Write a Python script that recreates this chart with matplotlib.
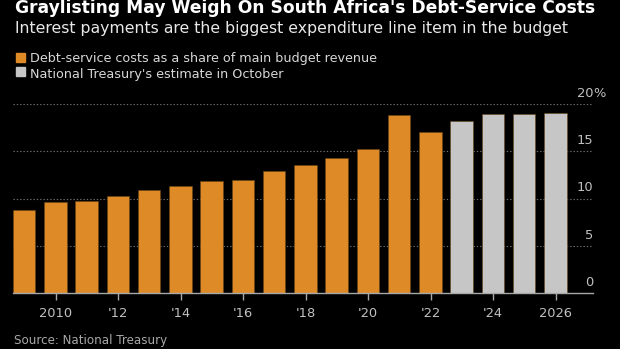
import matplotlib
matplotlib.use("Agg")
import matplotlib.pyplot as plt
import matplotlib.transforms as mtransforms

plt.rcParams['font.family'] = ['DejaVu Sans']

# data
years = [2009, 2010, 2011, 2012, 2013, 2014, 2015, 2016, 2017, 2018,
         2019, 2020, 2021, 2022, 2023, 2024, 2025, 2026]
share = [8.75, 9.65, 9.75, 10.25, 10.95, 11.35, 11.85, 11.95, 12.9, 13.55,
         14.25, 15.2, 18.8, 17.05, 18.15, 18.9, 18.9, 19.0]
estimate = [False] * 14 + [True] * 4
xtick_years = [2010, 2012, 2014, 2016, 2018, 2020, 2022, 2024, 2026]
xtick_labels = ["2010", "'12", "'14", "'16", "'18", "'20", "'22", "'24", "2026"]
yticks = [0, 5, 10, 15, 20]

orange = '#DE8B27'
grey = '#C6C6C6'
bg = 'black'
H = 349.0

fig = plt.figure(figsize=(6.2, 3.49), dpi=100, facecolor=bg)
ax = fig.add_axes([13 / 620, 56 / H, 580 / 620, 189 / H], facecolor=bg)

colors = [grey if e else orange for e in estimate]
ax.bar(years, share, width=0.72, color=colors, edgecolor='#6a4515', linewidth=0.4, zorder=2)

ax.set_xlim(2008.64, 2027.2)
ax.set_ylim(0, 20)

for v in yticks[1:]:
    ax.axhline(v, color='#707070', linestyle=(0, (1.2, 1.8)), linewidth=0.8, zorder=1)

trans = mtransforms.blended_transform_factory(ax.transAxes, ax.transData)
for v in yticks:
    ax.text(1.0, v + 0.75, str(v), transform=trans, ha='right', va='baseline',
            color='#c0c0c0', fontsize=9.4)
ax.text(1.0, 20.75, '%', transform=trans, ha='left', va='baseline', color='#c0c0c0', fontsize=9.4)

ax.set_yticks([])
ax.set_xticks(xtick_years)
ax.set_xticklabels(xtick_labels)
ax.tick_params(axis='x', colors='#a8a8a8', labelcolor='#c0c0c0', labelsize=9.4,
               length=5, width=1, pad=5)
for s in ['top', 'right', 'left']:
    ax.spines[s].set_visible(False)
ax.spines['bottom'].set_color('#a8a8a8')
ax.spines['bottom'].set_linewidth(1)

fig.text(15 / 620, 1 - 13 / H, "Graylisting May Weigh On South Africa's Debt-Service Costs",
         color='white', fontsize=12.3, fontweight='bold', va='baseline', ha='left')
fig.text(15 / 620, 1 - 32.5 / H, "Interest payments are the biggest expenditure line item in the budget",
         color='#e8e8e8', fontsize=11.3, va='baseline', ha='left')

# legend
fig.patches.append(plt.Rectangle((16 / 620, 1 - 61.7 / H), 9 / 620, 8.5 / H,
                                 transform=fig.transFigure, color=orange))
fig.patches.append(plt.Rectangle((16 / 620, 1 - 75.7 / H), 9 / 620, 8.5 / H,
                                 transform=fig.transFigure, color=grey))
fig.text(30 / 620, 1 - 62.3 / H, "Debt-service costs as a share of main budget revenue",
         color='#d8d8d8', fontsize=9.2, va='baseline', ha='left')
fig.text(30 / 620, 1 - 78.3 / H, "National Treasury's estimate in October",
         color='#d8d8d8', fontsize=9.2, va='baseline', ha='left')

fig.text(14 / 620, 1 - 344.3 / H, "Source: National Treasury",
         color='#a8a8a8', fontsize=8.6, va='baseline', ha='left')

fig.savefig('out.png', dpi=100, facecolor=bg)
